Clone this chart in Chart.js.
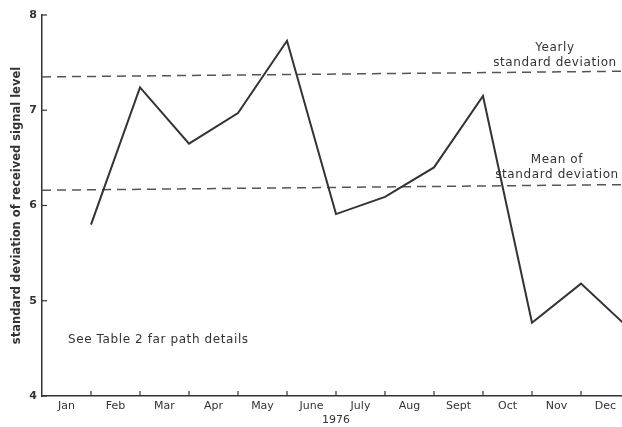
<!DOCTYPE html>
<html>
<head>
<meta charset="utf-8">
<script src="https://cdn.jsdelivr.net/npm/chart.js@4.4.0/dist/chart.umd.min.js"></script>
<style>
  html, body { margin: 0; padding: 0; background: #fff; overflow: hidden; }
  #wrap { width: 640px; height: 427px; }
</style>
</head>
<body>
<div id="wrap"><canvas id="sd-chart"></canvas></div>
<script>
// months, each point sits at the end of its month
const months = ['Jan', 'Feb', 'Mar', 'Apr', 'May', 'June', 'July', 'Aug', 'Sept', 'Oct', 'Nov', 'Dec']
const monthEnds = [1, 2, 3, 4, 5, 6, 7, 8, 9, 10, 11, 12]
const sdValues = [5.80, 7.24, 6.65, 6.97, 7.73, 5.91, 6.09, 6.40, 7.15, 4.77, 5.18, 4.70]

// reference lines (left end, right end)
const refX = [0, 12]
const yearlySd = [7.35, 7.41]
const meanSd = [6.16, 6.22]

const yTicks = [4, 5, 6, 7, 8]

const ink = '#333'
const font = 'DejaVu Sans'

const toPoints = (xs, ys) => xs.map((x, i) => ({ x: x, y: ys[i] }))

// small tick marks drawn inside the plot, plus the text notes
const annotations = {
  id: 'annotations',
  afterDraw(chart) {
    const { ctx, scales: { x, y } } = chart
    ctx.save()
    ctx.strokeStyle = ink
    ctx.lineWidth = 1.2
    monthEnds.forEach(m => {
      const px = x.getPixelForValue(m)
      ctx.beginPath()
      ctx.moveTo(px, y.bottom)
      ctx.lineTo(px, y.bottom - 5)
      ctx.stroke()
    })
    yTicks.forEach(v => {
      const py = y.getPixelForValue(v)
      ctx.beginPath()
      ctx.moveTo(x.left, py)
      ctx.lineTo(x.left + 5, py)
      ctx.stroke()
    })

    ctx.fillStyle = ink
    ctx.font = '12px "' + font + '"'
    ctx.letterSpacing = '0.6px'
    ctx.textAlign = 'center'
    ctx.textBaseline = 'middle'
    ctx.fillText('Yearly', 555, 48)
    ctx.fillText('standard deviation', 555, 63)
    ctx.fillText('Mean of', 557, 160)
    ctx.fillText('standard deviation', 557, 175)
    ctx.textAlign = 'left'
    ctx.fillText('See Table 2 far path details', 68, 340)
    ctx.restore()
  }
}

new Chart(document.getElementById('sd-chart'), {
  type: 'line',
  data: {
    datasets: [
      {
        data: toPoints(monthEnds, sdValues),
        borderColor: ink,
        borderWidth: 2,
        pointRadius: 0,
        tension: 0
      },
      {
        data: toPoints(refX, yearlySd),
        borderColor: '#555',
        borderWidth: 1.5,
        borderDash: [9, 6],
        pointRadius: 0
      },
      {
        data: toPoints(refX, meanSd),
        borderColor: '#555',
        borderWidth: 1.5,
        borderDash: [9, 6],
        pointRadius: 0
      }
    ]
  },
  options: {
    responsive: true,
    maintainAspectRatio: false,
    animation: false,
    layout: { padding: { top: 15, right: 10, left: 10, bottom: 0 } },
    plugins: {
      legend: { display: false },
      tooltip: { enabled: false }
    },
    scales: {
      x: {
        type: 'linear',
        min: 0,
        max: 12,
        grid: { drawOnChartArea: false, drawTicks: false },
        border: { color: ink, width: 1.5 },
        ticks: {
          stepSize: 0.5,
          autoSkip: false,
          maxRotation: 0,
          padding: 4,
          color: ink,
          font: { family: font, size: 11 },
          callback: v => (v % 1 === 0.5 ? months[Math.floor(v)] : '')
        },
        title: {
          display: true,
          text: '1976',
          color: ink,
          padding: { top: 0, bottom: 0 },
          font: { family: font, size: 11 }
        },
        afterFit: scale => { scale.height = 31 }
      },
      y: {
        min: 4,
        max: 8,
        grid: { drawOnChartArea: false, drawTicks: false },
        border: { color: ink, width: 1.5 },
        ticks: {
          stepSize: 1,
          padding: 5,
          color: ink,
          font: { family: font, size: 11, weight: 'bold' }
        },
        title: {
          display: true,
          text: 'standard deviation of received signal level',
          color: ink,
          padding: { top: 0, bottom: 0 },
          font: { family: font, size: 11.5, weight: 'bold' }
        },
        afterFit: scale => { scale.width = 32 }
      }
    }
  },
  plugins: [annotations]
})
</script>
</body>
</html>
